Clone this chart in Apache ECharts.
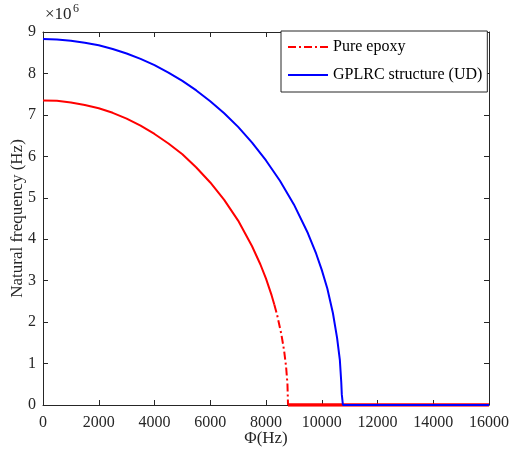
<!DOCTYPE html>
<html>
<head>
<meta charset="utf-8">
<script src="https://cdn.jsdelivr.net/npm/echarts@6/dist/echarts.min.js"></script>
<style>html,body{margin:0;padding:0;background:#fff}#c{width:509px;height:455px}</style>
</head>
<body>
<div id="c"></div>
<script>
// Values in units of 10^6 Hz
var xTicks = [0, 2000, 4000, 6000, 8000, 10000, 12000, 14000, 16000];
var yTicks = [0, 1, 2, 3, 4, 5, 6, 7, 8, 9];

// Pure epoxy: solid-looking upper part
var epoxyPhiSolid = [0, 500, 1000, 1500, 2000, 2500, 3000, 3500, 4000, 4500, 5000, 5500, 6000, 6500, 7000, 7500, 7800, 8000, 8200, 8300];
var epoxyFreqSolid = [7.35, 7.34, 7.30, 7.24, 7.16, 7.05, 6.91, 6.74, 6.54, 6.31, 6.05, 5.73, 5.37, 4.95, 4.45, 3.83, 3.39, 3.05, 2.65, 2.42];
// Pure epoxy: dash-dot lower part
var epoxyPhiDash = [8300, 8400, 8550, 8650, 8720, 8770, 8790];
var epoxyFreqDash = [2.42, 2.17, 1.71, 1.31, 0.93, 0.50, 0];
// Pure epoxy: flat zero part
var epoxyPhiFlat = [8790, 16000];
var epoxyFreqFlat = [0, 0];

// GPLRC structure (UD)
var gplPhi = [0, 500, 1000, 1500, 2000, 2500, 3000, 3500, 4000, 4500, 5000, 5500, 6000, 6500, 7000, 7500, 8000, 8500, 9000, 9500, 9800, 10000, 10200, 10400, 10550, 10650, 10700, 10720, 10760, 16000];
var gplFreq = [8.83, 8.82, 8.79, 8.74, 8.68, 8.59, 8.48, 8.35, 8.20, 8.02, 7.82, 7.59, 7.33, 7.04, 6.71, 6.33, 5.90, 5.41, 4.84, 4.15, 3.65, 3.26, 2.81, 2.22, 1.62, 1.08, 0.55, 0.25, 0, 0];

function pairs(xs, ys) { return xs.map(function (x, i) { return [x, ys[i]]; }); }

var FONT = '"Liberation Serif", "DejaVu Serif", serif';
var AX = '#262626';

var chart = echarts.init(document.getElementById('c'), null, {renderer: 'canvas'});
var xBase = {
  type: 'value', min: xTicks[0], max: xTicks[xTicks.length - 1], interval: xTicks[1] - xTicks[0],
  axisLine: {show: true, onZero: false, lineStyle: {color: AX, width: 1}},
  axisTick: {show: true, inside: true, length: 5, lineStyle: {color: AX}},
  splitLine: {show: false}
};
var yBase = {
  type: 'value', min: yTicks[0], max: yTicks[yTicks.length - 1], interval: yTicks[1] - yTicks[0],
  axisLine: {show: true, onZero: false, lineStyle: {color: AX, width: 1}},
  axisTick: {show: true, inside: true, length: 5, lineStyle: {color: AX}},
  splitLine: {show: false}
};
chart.setOption({
  animation: false,
  backgroundColor: '#ffffff',
  grid: {left: 43, right: 20, top: 32, bottom: 50, containLabel: false, outerBoundsMode: 'none'},
  xAxis: [
    Object.assign({}, xBase, {
      position: 'bottom',
      axisLabel: {show: true, margin: 10, color: AX, fontFamily: FONT, fontSize: 16,
        formatter: function (v) { return String(v); }},
      name: 'Φ(Hz)', nameLocation: 'middle', nameGap: 25, nameMoveOverlap: false,
      nameTextStyle: {color: AX, fontFamily: FONT, fontSize: 17}
    }),
    Object.assign({}, xBase, {position: 'top', axisLabel: {show: false}})
  ],
  yAxis: [
    Object.assign({}, yBase, {
      position: 'left',
      axisLabel: {show: true, margin: 7, color: AX, fontFamily: FONT, fontSize: 16,
        formatter: function (v) { return String(v); }},
      name: 'Natural frequency (Hz)', nameLocation: 'middle', nameGap: 17, nameMoveOverlap: false,
      nameTextStyle: {color: AX, fontFamily: FONT, fontSize: 17}
    }),
    Object.assign({}, yBase, {position: 'right', axisLabel: {show: false}})
  ],
  legend: {
    data: ['Pure epoxy', 'GPLRC structure (UD)'],
    orient: 'vertical', left: 281, top: 31,
    itemWidth: 40, itemHeight: 14, itemGap: 12,
    padding: [8, 5, 9, 6],
    itemStyle: {opacity: 0},
    borderColor: '#262626', borderWidth: 1, backgroundColor: '#ffffff',
    textStyle: {color: '#000', fontFamily: FONT, fontSize: 16}
  },
  graphic: [
    {type: 'text', left: 45, top: 6, style: {text: '×10', font: '17px ' + FONT, fill: AX}},
    {type: 'text', left: 73, top: 3, style: {text: '6', font: '12px ' + FONT, fill: AX}}
  ],
  series: [
    {name: 'epoxy-upper', type: 'line', showSymbol: false, symbol: 'none', data: pairs(epoxyPhiSolid, epoxyFreqSolid),
     lineStyle: {color: '#ff0000', width: 2}, itemStyle: {color: '#ff0000'}},
    {name: 'Pure epoxy', type: 'line', showSymbol: false, symbol: 'none', data: pairs(epoxyPhiDash, epoxyFreqDash),
     lineStyle: {color: '#ff0000', width: 2, type: [8, 3, 2, 3]}, itemStyle: {color: '#ff0000'}},
    {name: 'epoxy-flat', type: 'line', showSymbol: false, symbol: 'none', data: pairs(epoxyPhiFlat, epoxyFreqFlat),
     lineStyle: {color: '#ff0000', width: 3.5}, itemStyle: {color: '#ff0000'}},
    {name: 'GPLRC structure (UD)', type: 'line', showSymbol: false, symbol: 'none', data: pairs(gplPhi, gplFreq),
     lineStyle: {color: '#0000ff', width: 2}, itemStyle: {color: '#0000ff'}, z: 3}
  ]
});
</script>
</body>
</html>
